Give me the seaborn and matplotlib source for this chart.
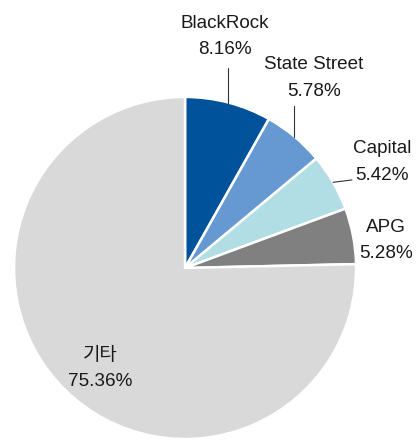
import numpy as np
import matplotlib
matplotlib.use('Agg')
import matplotlib.pyplot as plt
import seaborn as sns

sns.set_theme(style='white')
plt.rcParams['font.family'] = ['Liberation Sans', 'Noto Sans CJK KR', 'DejaVu Sans']

# data
holders = ['BlackRock', 'State Street', 'Capital', 'APG', '기타']
shares = [8.16, 5.78, 5.42, 5.28, 75.36]
colors = sns.color_palette(['#00529B', '#6699D2', '#B0DEE4', '#808080', '#D9D9D9'])

fig = plt.figure(figsize=(4.19, 4.42), dpi=100)
ax = fig.add_axes([0, 0, 1, 1])
ax.pie(shares, colors=colors, startangle=90, counterclock=False,
       wedgeprops=dict(edgecolor='white', linewidth=1.8))
ax.set_aspect('equal')
ax.set_xlim(-1.082, 1.368)
ax.set_ylim(-1.0175, 1.567)
ax.axis('off')

# label positions (data units, radius = 1)
label_pos = [(0.234, 1.354), (0.754, 1.111), (1.152, 0.620), (1.175, 0.161), (-0.497, -0.585)]
# leader lines: end point for the first three slices
leader_end = [(None, 1.17), (None, 0.947), (0.976, 0.515), None, None]

cum = np.cumsum([0] + shares[:-1])
for i, (name, val) in enumerate(zip(holders, shares)):
    mid = np.deg2rad(90 - (cum[i] + val / 2) * 3.6)
    x0, y0 = np.cos(mid), np.sin(mid)
    end = leader_end[i]
    if end is not None:
        x1 = x0 if end[0] is None else end[0]
        ax.plot([x0, x1], [y0, end[1]], color='#333333', lw=0.8)
    lx, ly = label_pos[i]
    ax.text(lx, ly, f'{name}\n{val:.2f}%', ha='center', va='center',
            fontsize=13.6, color='#1a1a1a', linespacing=1.7)

plt.savefig('out.png', dpi=100)
plt.close()
